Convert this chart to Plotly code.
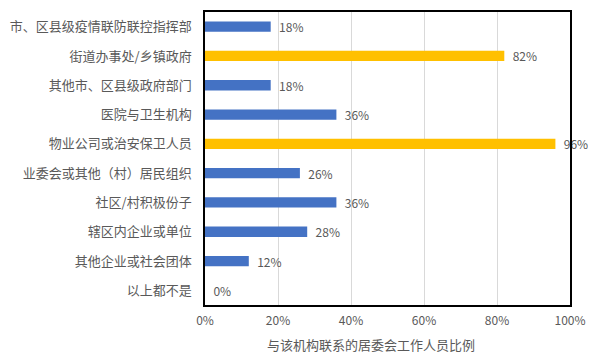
import plotly.graph_objects as go

categories = ["市、区县级疫情联防联控指挥部", "街道办事处/乡镇政府", "其他市、区县级政府部门",
              "医院与卫生机构", "物业公司或治安保卫人员", "业委会或其他（村）居民组织",
              "社区/村积极份子", "辖区内企业或单位", "其他企业或社会团体", "以上都不是"]
values = [18, 82, 18, 36, 96, 26, 36, 28, 12, 0]
labels = ["18%", "82%", "18%", "36%", "96%", "26%", "36%", "28%", "12%", "0%"]
highlight = [False, True, False, False, True, False, False, False, False, False]
x_ticks = [0, 20, 40, 60, 80, 100]
x_tick_labels = ["0%", "20%", "40%", "60%", "80%", "100%"]
x_title = "与该机构联系的居委会工作人员比例"

colors = ["#FFC000" if h else "#4472C4" for h in highlight]
font = "Noto Sans CJK SC"

fig = go.Figure(go.Bar(
    x=values, y=categories, orientation="h",
    marker=dict(color=colors, line=dict(width=0)),
    width=0.35,
    text=labels, texttemplate="  %{text}", textposition="outside",
    cliponaxis=False, constraintext="none",
    textfont=dict(family=font, size=12, color="#595959"),
))

fig.update_layout(
    width=588, height=352,
    margin=dict(l=195, r=26, t=2, b=55),
    paper_bgcolor="white", plot_bgcolor="white",
    showlegend=False,
    font=dict(family=font, size=12, color="#595959"),
    xaxis=dict(range=[0, 100], tickvals=x_ticks, ticktext=x_tick_labels,
               showgrid=True, gridcolor="#D9D9D9", gridwidth=1,
               zeroline=False, showline=True, linecolor="black", linewidth=1.5, mirror=True,
               ticks="", ticklabelstandoff=4, tickfont=dict(size=12, color="#595959")),
    yaxis=dict(categoryorder="array", categoryarray=categories[::-1],
               showline=True, linecolor="black", linewidth=1.5, mirror=True,
               ticks="", ticklabelstandoff=9, showgrid=False,
               tickfont=dict(size=13, color="#595959")),
    annotations=[dict(text=x_title, xref="paper", yref="paper", x=0.455, y=-0.136,
                      xanchor="center", yanchor="middle", showarrow=False,
                      font=dict(family=font, size=13, color="#595959"))],
)

fig.write_html("out.html")
